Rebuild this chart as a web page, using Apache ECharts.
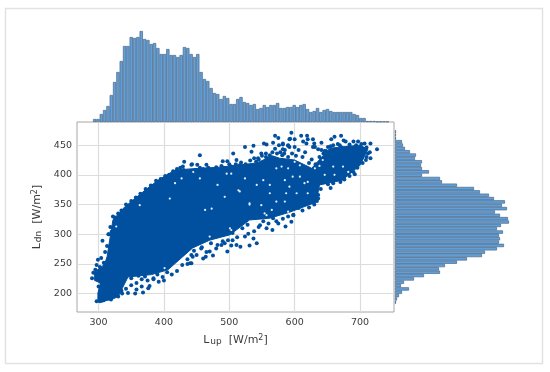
<!DOCTYPE html>
<html><head><meta charset="utf-8">
<style>html,body{margin:0;padding:0;background:#fff}#c{width:550px;height:372px}</style>
<script src="https://cdn.jsdelivr.net/npm/echarts@6/dist/echarts.min.js"></script>
</head><body><div id="c"></div>
<script>
const lupTicks=[300,400,500,600,700];
const ldnTicks=[200,250,300,350,400,450];
const lupCounts=[3,3,8,12,16,27,40,50,61,76,76,85,84,85,91,83,82,78,79,74,68,68,73,67,67,65,67,75,74,68,65,68,50,43,41,34,29,28,23,26,24,18,18,23,25,20,19,17,18,13,14,17,15,17,17,19,14,14,15,15,17,15,17,18,13,10,11,14,10,12,13,11,10,10,10,10,10,10,8,7,4,4,1,1,1,0.5,0.5,0.5,0.5];
const ldnCounts=[1,1,1,7,8,10,15,21,20,27,26,27,34,27,45,47,62,79,85,94,99,110,107,112,100,105,113,114,106,102,108,104,105,104,109,102,90,87,72,62,50,44,45,29,19,9,6,14,7,4,2,1];
const coreLup=[299,299,303,294,294,305,310,313,317,322,340,371,391,417,440,486,542,566,577,600,626,654,700,712,700,673,638,633,592,562,531,501,470,444,406,381,345,330,320,305];
const coreLdn=[187,201,218,222,236,245,252,262,290,324,346,374,391,408,410,413,420,432,428,425,411,445,450,443,416,391,383,354,337,327,324,299,290,277,240,232,228,195,190,187];
const pointLup=[595,592,600,610,619,620,628,631,630,641,656,661,671,675,659,651,697,707,716,726,716,712,709,704,692,590,600,582,585,581,592,641,646,669,613,618,628,636,684,694,703,659,651,643,636,634,628,
455,451,442,465,455,490,497,506,524,537,534,553,557,570,575,567,576,582,582,590,593,549,544,511,503,491,483,468,562,573,516,529,541,556,
542,531,517,511,503,497,475,470,464,460,457,480,488,505,524,529,537,547,557,566,586,575,598,595,440,442,567,446,493,
431,443,429,306,315,320,299,304,297,302,292,290,299,303,312,297,305,319,330,336,345,356,358,368,376,378,366,350,361,371,392,400,384,442,436,
325,330,335,342,350,357,364,372,380,388,395,402,408,414,420,425,430,436,442,448,455,460,468,475,480,488,495,500,505,510,518,525,532,538,545,550,556,560,566,570,578,584,590,596,602,606,612,616,622,626,632,638,644,648,655,660,666,672,678,684,690,695,702,706,710,715,
710,704,696,690,684,676,670,662,655,646,640,636,630,622,612,606,598,590,582,572,560,552,545,538,528,520,512,505,498,490,482,472,465,458,450,444,436,428,420,412,405,398,390,384,375,366,358,350,342,335,328,322,315,308,302,
300,305,297,295,300,308,310,313,316,318,322];
const pointLdn=[471,460,460,466,466,460,460,447,453,454,460,464,466,458,450,447,456,453,453,443,428,436,425,444,401,450,447,453,442,433,447,442,440,450,456,453,447,443,451,450,429,386,384,388,366,356,374,
433,417,417,417,412,423,423,436,447,449,439,453,451,466,462,454,450,451,443,449,461,436,428,425,414,412,408,401,433,436,416,414,422,430,
285,281,279,282,281,271,264,271,262,259,276,276,282,290,296,301,293,315,310,307,313,318,332,321,251,265,327,272,285,
422,418,414,289,300,304,257,260,248,245,235,226,230,220,215,187,188,190,195,200,201,200,207,202,209,213,212,226,230,229,220,222,226,251,258,
328,335,340,350,356,362,368,376,382,390,393,398,400,406,410,412,408,404,400,408,406,410,412,408,413,415,411,418,410,418,421,418,424,428,426,432,436,428,438,444,438,436,430,436,432,442,430,438,420,426,418,430,436,440,448,440,452,446,456,448,456,445,452,440,446,438,
430,420,412,405,398,392,388,395,378,388,376,360,350,345,340,344,333,330,326,322,318,322,312,305,316,310,295,302,290,288,282,285,270,278,265,262,250,248,238,232,236,228,232,224,222,224,218,214,208,205,200,195,192,189,187,
212,228,225,240,238,252,270,280,300,312,330];
const gapLup=[409,417,427,327,363,401,659,638,643,628,623,597,608,620,646,661,674,682,590,580,603,620,615,592,608,600,615,631,496,503,514,516,542,552,562,572,585,587,562,524,482,493,531,455,445,531,549,557,572,585,463,473,501,524,542,554,577,590,470,491,503,529,565];
const gapLdn=[360,386,394,313,349,243,414,415,425,428,422,397,397,388,400,400,414,405,411,414,369,369,386,380,416,422,433,411,402,402,374,372,383,391,383,411,391,369,369,394,383,363,352,394,405,350,349,332,355,355,341,343,310,313,321,335,327,338,296,293,307,299,341];

const BLUE='#00509f';
const core=coreLup.map((x,i)=>[x,coreLdn[i]]);
const chart=echarts.init(document.getElementById('c'),null,{renderer:'canvas'});
const txt='#3a3a3a',FF='"DejaVu Sans"';
const nameRich={l:{fontSize:11,color:txt,fontFamily:FF,letterSpacing:0.6},s:{fontSize:9,color:txt,fontFamily:FF,verticalAlign:'bottom',padding:[3,0,0,1]},u:{fontSize:8,color:txt,fontFamily:FF,verticalAlign:'top',padding:[0,0,3,0]}};
const barStyle={color:'#619fd8',borderColor:'#4a6788',borderWidth:0.7};
chart.setOption({
 animation:false,backgroundColor:'#fff',
 graphic:[{type:'rect',shape:{x:5.5,y:8.5,width:537,height:355},style:{fill:'none',stroke:'#e2e2e2',lineWidth:1.5},silent:true}],
 grid:[
  {left:77,top:122,width:317,height:190,show:true,borderColor:'#a6a6a6',borderWidth:1,backgroundColor:'#fff'},
  {left:93,top:22,width:296,height:100},
  {left:395,top:130,width:120,height:174}
 ],
 xAxis:[
  {gridIndex:0,type:'value',min:267,max:752,
   name:'{l|L}{s|up}{l|  [W/m}{u|2}{l|]}',nameLocation:'middle',nameGap:22,
   nameTextStyle:{color:txt,fontFamily:FF,rich:nameRich},
   axisLine:{show:false},axisTick:{show:false,customValues:lupTicks},
   axisLabel:{customValues:lupTicks,color:txt,fontFamily:FF,fontSize:9.5,margin:6},
   splitLine:{show:true,lineStyle:{color:'#dcdcdc',width:1.2}}},
  {gridIndex:1,type:'category',data:lupCounts.map((_,i)=>i),show:false},
  {gridIndex:2,type:'value',min:0,max:120,show:false,splitLine:{show:false}}
 ],
 yAxis:[
  {gridIndex:0,type:'value',min:169,max:489,
   name:'{l|L}{s|dn}{l|  [W/m}{u|2}{l|]}',nameLocation:'middle',nameGap:26,
   nameTextStyle:{color:txt,fontFamily:FF,rich:nameRich},
   axisLine:{show:false},axisTick:{show:false,customValues:ldnTicks},
   axisLabel:{customValues:ldnTicks,color:txt,fontFamily:FF,fontSize:9.5,margin:5},
   splitLine:{show:true,lineStyle:{color:'#dcdcdc',width:1.2}}},
  {gridIndex:1,type:'value',min:0,max:100,show:false,splitLine:{show:false}},
  {gridIndex:2,type:'category',inverse:true,data:ldnCounts.map((_,i)=>i),show:false}
 ],
 series:[
  {type:'bar',xAxisIndex:1,yAxisIndex:1,data:lupCounts,barCategoryGap:0,itemStyle:barStyle},
  {type:'bar',xAxisIndex:2,yAxisIndex:2,data:ldnCounts,barCategoryGap:0,itemStyle:barStyle},
  {type:'custom',xAxisIndex:0,yAxisIndex:0,data:core,silent:true,z:3,
   renderItem:(p,api)=>p.dataIndex===0?{type:'polygon',shape:{points:core.map(d=>api.coord(d))},style:{fill:BLUE,stroke:BLUE,lineWidth:1}}:null},
  {type:'scatter',xAxisIndex:0,yAxisIndex:0,data:gapLup.map((x,i)=>[x,gapLdn[i]]),symbolSize:2.2,itemStyle:{color:'#e8f0f8',opacity:1},z:4,silent:true},
  {type:'scatter',xAxisIndex:0,yAxisIndex:0,data:pointLup.map((x,i)=>[x,pointLdn[i]]),symbolSize:4,itemStyle:{color:BLUE,opacity:1},z:5,silent:true}
 ]
});
</script></body></html>
